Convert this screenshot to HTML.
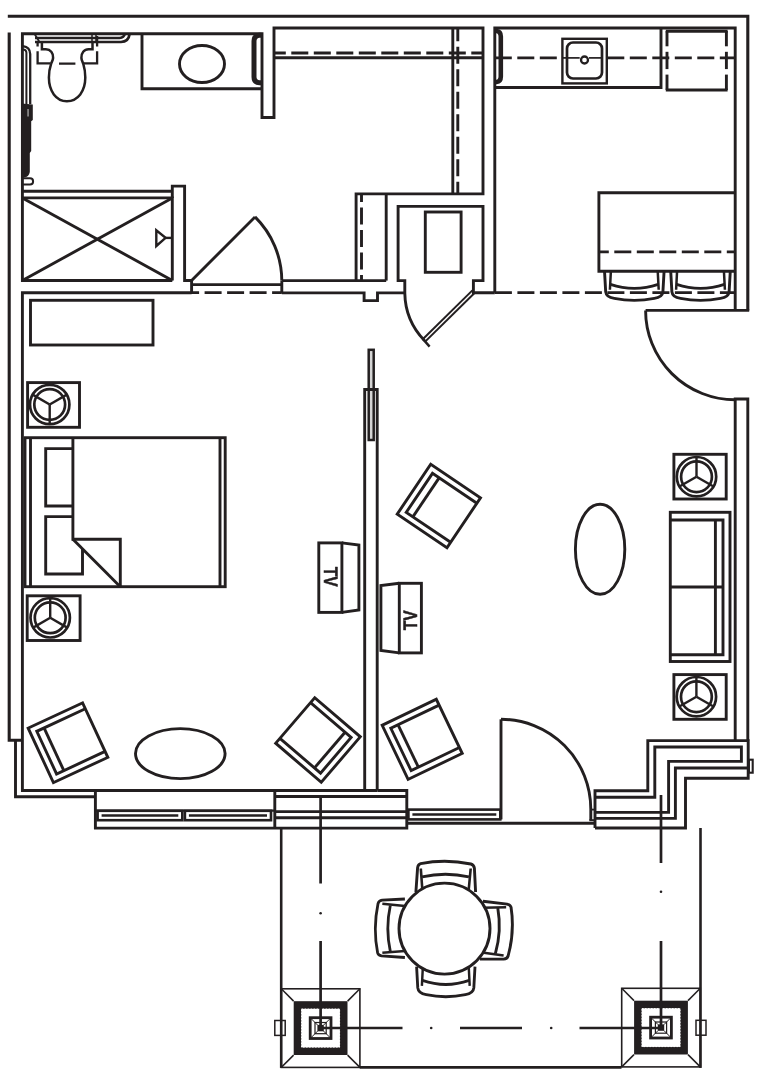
<!DOCTYPE html>
<html><head><meta charset="utf-8"><title>Floor plan</title>
<style>
html,body{margin:0;padding:0;background:#fff;}
body{width:761px;height:1073px;overflow:hidden;font-family:"Liberation Sans",sans-serif;}
svg{display:block;will-change:transform;}
text{-webkit-font-smoothing:antialiased;text-rendering:geometricPrecision;}
</style></head>
<body>
<svg width="761" height="1073" viewBox="0 0 761 1073" fill="none" stroke="#231f20" stroke-width="2.9" stroke-linecap="butt" stroke-linejoin="miter">
<rect x="0" y="0" width="761" height="1073" fill="#fff" stroke="none"/>
<g id="walls">
<polyline points="7.8,16.2 747.8,16.2 747.8,310.4" stroke-width="3.1" />
<polyline points="9.2,32.5 9.2,740.3 22.4,740.3" stroke-width="3.1" />
<polyline points="15.5,740.3 15.5,796.7 95.4,796.7" />
<polyline points="377.5,790.5 22.4,790.5 22.4,292.8 191.6,292.8" />
<polyline points="172.3,280.5 22.4,280.5 22.4,33.7 262,33.7 262,117.5 274,117.5 274,28 483,28 483,193.9 356.1,193.9 356.1,280.6" />
<line x1="274" y1="57.8" x2="483" y2="57.8" />
<line x1="274" y1="53" x2="483" y2="53" stroke-dasharray="17 5.5" stroke-dashoffset="5.2"/>
<line x1="452.8" y1="28" x2="452.8" y2="193.9" />
<line x1="457.8" y1="28" x2="457.8" y2="193.9" stroke-dasharray="17 5.5" stroke-dashoffset="3.8"/>
<line x1="386.2" y1="193.9" x2="386.2" y2="280.6" />
<line x1="361.5" y1="193.9" x2="361.5" y2="280.6" stroke-dasharray="17 5.5" stroke-dashoffset="8.9"/>
<polyline points="494.8,292.8 494.8,28 735.2,28 735.2,310.4" />
<line x1="645.6" y1="310.4" x2="749.2" y2="310.4" />
<path d="M645.6,310.4 A89.6,89.4 0 0 0 735.2,399.8" />
<polyline points="735.2,740.6 735.2,399 747.8,399 747.8,740.6" />
</g>
<g id="bath">
<polyline points="142,33.7 142,88.7 262,88.7" />
<ellipse cx="202" cy="64" rx="22.5" ry="18.5" />
<path d="M261.5,35.2 L259.5,35.2 Q254,35.6 254,41 L254,77 Q254,82.4 259.5,82.8 L261.5,82.8" stroke-width="5" />
<line x1="22.4" y1="191.2" x2="172.3" y2="191.2" />
<polyline points="22.4,197.9 172.3,197.9 172.3,280.5" />
<line x1="22.4" y1="197.9" x2="172.3" y2="280.5" />
<line x1="22.4" y1="280.5" x2="172.3" y2="197.9" />
<polyline points="172.3,197.9 172.3,186.1 184.6,186.1 184.6,280.5 191.6,280.5 191.6,294" />
<polygon points="156.3,230.3 156.3,246 165.6,237.9" stroke-width="2.4" />
<line x1="165.6" y1="237.9" x2="172.3" y2="237.9" stroke-width="2.4" />
<line x1="191.6" y1="280.5" x2="255" y2="216.9" />
<path d="M255,216.9 A90,90 0 0 1 281.8,280.6" />
<line x1="191.8" y1="284.6" x2="281.8" y2="284.6" />
<line x1="191.8" y1="292.6" x2="281.8" y2="292.6" stroke-dasharray="17 5.5" stroke-dashoffset="9.7"/>
<line x1="281.8" y1="280.6" x2="281.8" y2="292.9" />
<line x1="281.8" y1="280.6" x2="386.2" y2="280.6" />
<polyline points="281.8,292.9 364.1,292.9 364.1,300.6 377.5,300.6 377.5,292.9 404.8,292.9" />
<path d="M35,38 L119.5,38 Q124,37.6 124.8,34" stroke-width="2.6" />
<path d="M35,42 L121,42 Q128.6,41.8 129.6,34" stroke-width="2.7" />
<path d="M34.6,34 L39.5,42" stroke-width="1.8" />
<path d="M92,34.5 L92,42 M96,34.5 L96,42" stroke-width="1.5" />
<path d="M37.6,42.5 L37.6,46.5 M37.6,51.3 L37.6,63.4 L50.5,63.4 M59,63.6 L75.4,63.6 M82.7,63.4 L97.1,63.4 L97.1,51.3 M97.1,36 L97.1,46.5" stroke-width="2.3" />
<path d="M41.9,42 L41.9,49.3 L45.9,49.3 C50.5,49.3 53.3,53 53.1,57.9 C53,60.5 51.6,62 51.1,63.8 C49.6,68 48.9,73 48.9,77.6 C48.9,91 56,101.2 66.9,101.2 C78,101.2 85.3,91 85.3,77.6 C85.3,73 84.6,68 83.3,63.8 C82.7,62 81.5,60.5 81.4,57.9 C81.2,53 84,49.3 88.6,49.3 L92.5,49.3 L92.5,42" stroke-width="2.5" />
<path d="M30.2,104 L30.2,54 Q30,47.2 23,46.2" stroke-width="2.3" />
<path d="M26.4,104 L26.4,52.5 Q26.2,49.8 23,49.6" stroke-width="2" />
<path d="M21.3,103.5 L32.8,104.5 L32.8,120 L31.2,121.2 L31.2,151 L29.8,153 L29.8,172 Q29,177 24,177.6 L21.3,177 Z" fill="#231f20" stroke="none"/>
<rect x="27.4" y="109" width="1.3" height="7.5" fill="#aaa" stroke="none"/>
<path d="M23,178.3 L30,178.3 A3.1,3.1 0 0 1 30,184.5 L23,184.5" stroke-width="2" />
</g>
<g id="util">
<polyline points="404.8,292.9 404.8,280.6 398.1,280.6 398.1,206.4 483,206.4 483,280.6 473.4,280.6 473.4,292.8 494.8,292.8" />
<rect x="425.3" y="212" width="35.8" height="60.3" />
<line x1="472.4" y1="290.4" x2="423" y2="339" stroke-width="2" />
<line x1="474.8" y1="292.8" x2="425.4" y2="341.4" stroke-width="2" />
<line x1="422.6" y1="338.6" x2="429.6" y2="346.6" stroke-width="2.4" />
<path d="M404.8,292.9 A70,70 0 0 0 424.5,340.5" />
</g>
<g id="kitchen">
<polyline points="494.8,87.5 661,87.5 661,28" />
<line x1="494.8" y1="57.9" x2="562.4" y2="57.9" stroke-dasharray="17 5.5" stroke-dashoffset="0.0"/>
<line x1="606.8" y1="57.9" x2="735.2" y2="57.9" stroke-dasharray="17 5.5" stroke-dashoffset="22.0"/>
<line x1="562.4" y1="57.9" x2="579.7" y2="57.9" stroke-width="1.7" />
<line x1="589" y1="57.9" x2="601" y2="57.9" stroke-width="1.7" />
<rect x="562.4" y="38.8" width="44.4" height="44.6" stroke-width="2.4" />
<rect x="567" y="42.5" width="35" height="36" rx="6" ry="6" stroke-width="2.7"/>
<circle cx="584.5" cy="60" r="3.5" stroke-width="2.3"/>
<path d="M495.5,31 L496.5,31 Q500.8,31.4 500.8,36.5 L500.8,76.5 Q500.8,81.6 496.5,82 L495.5,82" stroke-width="4.6" />
<line x1="665.8" y1="31.3" x2="727.6" y2="31.3" stroke-width="3" />
<line x1="665.8" y1="90" x2="727.6" y2="90" />
<line x1="667" y1="31" x2="667" y2="46.3" />
<line x1="667" y1="51.8" x2="667" y2="69.1" />
<line x1="667" y1="74.6" x2="667" y2="90" />
<line x1="726.4" y1="31" x2="726.4" y2="46.3" />
<line x1="726.4" y1="51.8" x2="726.4" y2="69.1" />
<line x1="726.4" y1="74.6" x2="726.4" y2="90" />
<polyline points="735.2,192.7 598.9,192.7 598.9,271.3 735.2,271.3" />
<line x1="598.9" y1="251.9" x2="735.2" y2="251.9" stroke-dasharray="17 5.5" stroke-dashoffset="7.1"/>
<line x1="494.8" y1="292.6" x2="735.2" y2="292.6" stroke-dasharray="17 5.5" stroke-dashoffset="22.4"/>
<g transform="translate(634.3,270.8) rotate(180) rotate(0,0,-15) scale(1,1)" stroke-width="2.9" stroke-linejoin="round">
<path d="M-29.8,0 L-28.6,-21 Q-28,-26.3 -20,-27.6 Q0,-31.6 20,-27.6 Q28,-26.3 28.6,-21 L29.8,0" />
<path d="M-23.4,0 L-24.4,-19 M23.4,0 L24.4,-19" stroke-width="2.5" />
<path d="M-23.9,-13.6 Q0,-21.6 23.9,-13.6" />
</g>
<g transform="translate(700.5,270.8) rotate(180) rotate(0,0,-15) scale(1,1)" stroke-width="2.9" stroke-linejoin="round">
<path d="M-29.8,0 L-28.6,-21 Q-28,-26.3 -20,-27.6 Q0,-31.6 20,-27.6 Q28,-26.3 28.6,-21 L29.8,0" />
<path d="M-23.4,0 L-24.4,-19 M23.4,0 L24.4,-19" stroke-width="2.5" />
<path d="M-23.9,-13.6 Q0,-21.6 23.9,-13.6" />
</g>
</g>
<g id="bedroom">
<rect x="30.5" y="300.3" width="122.5" height="44.7" />
<rect x="27.6" y="382.6" width="51.9" height="44.7" />
<circle cx="49.7" cy="404.5" r="19.7" stroke-width="2.7"/>
<circle cx="49.7" cy="404.5" r="15.4" stroke-width="2.7"/>
<line x1="49.7" y1="404.5" x2="49.7" y2="424.2" stroke-width="2.4" />
<line x1="49.7" y1="404.5" x2="32.64" y2="394.65" stroke-width="2.4" />
<line x1="49.7" y1="404.5" x2="66.76" y2="394.65" stroke-width="2.4" />
<rect x="27.2" y="595.8" width="52.9" height="44.7" />
<circle cx="50.2" cy="617.8" r="19.7" stroke-width="2.7"/>
<circle cx="50.2" cy="617.8" r="15.4" stroke-width="2.7"/>
<line x1="50.2" y1="617.8" x2="50.2" y2="598.1" stroke-width="2.4" />
<line x1="50.2" y1="617.8" x2="67.26" y2="627.65" stroke-width="2.4" />
<line x1="50.2" y1="617.8" x2="33.14" y2="627.65" stroke-width="2.4" />
<rect x="25" y="437.7" width="200.2" height="149.0" />
<line x1="30.5" y1="437.7" x2="30.5" y2="586.7" />
<line x1="220" y1="437.7" x2="220" y2="586.7" />
<polyline points="72.9,437.7 72.9,539.2 120.3,539.2 120.3,586.7" />
<line x1="72.9" y1="539.2" x2="120.3" y2="586.7" />
<polyline points="72.9,448.6 45.7,448.6 45.7,506 72.9,506" />
<polyline points="72.9,516.6 45.7,516.6 45.7,574 82.5,574 82.5,549" />
<ellipse cx="180.3" cy="753.6" rx="44.8" ry="25" />
<g transform="translate(68,742.75) rotate(-24.9)">
<rect x="-30" y="-30" width="60" height="60" />
<polyline points="30,-23.5 -23.5,-23.5 -23.5,23.5 30,23.5" />
<line x1="-15.5" y1="-23.5" x2="-15.5" y2="23.5" />
</g>
<g transform="translate(318,740) rotate(-139.4)">
<rect x="-30" y="-30" width="60" height="60" />
<polyline points="30,-23.5 -23.5,-23.5 -23.5,23.5 30,23.5" />
<line x1="-15.5" y1="-23.5" x2="-15.5" y2="23.5" />
</g>
<rect x="318.8" y="542.9" width="23.1" height="69.5" />
<polyline points="341.9,542.9 358.9,545.1 358.9,610 341.9,612.4" />
<text x="0" y="0" transform="translate(323.9,576.6) rotate(90) scale(0.8,1)" text-anchor="middle" font-family="'Liberation Sans', sans-serif" font-weight="bold" font-size="19.5" fill="#231f20" stroke="#231f20" stroke-width="0.55" stroke-linejoin="round">TV</text>
<rect x="399.3" y="583.3" width="22.1" height="69.6" />
<polyline points="399.3,583.3 380.9,585.6 380.9,650.5 399.3,652.9" />
<text x="0" y="0" transform="translate(417,620.2) rotate(-90) scale(0.8,1)" text-anchor="middle" font-family="'Liberation Sans', sans-serif" font-weight="bold" font-size="19.5" fill="#231f20" stroke="#231f20" stroke-width="0.55" stroke-linejoin="round">TV</text>
</g>
<g id="divider">
<rect x="368.7" y="349.8" width="5.0" height="90.2" stroke-width="2.5" fill="#d4d4d4"/>
<polyline points="364.7,790.5 364.7,389.5 377.2,389.5 377.2,790.5" />
</g>
<g id="living">
<g transform="translate(438.85,506) rotate(33.95)">
<rect x="-30" y="-30" width="60" height="60" />
<polyline points="30,-23.5 -23.5,-23.5 -23.5,23.5 30,23.5" />
<line x1="-15.5" y1="-23.5" x2="-15.5" y2="23.5" />
</g>
<g transform="translate(422.2,739.3) rotate(-25.6)">
<rect x="-30" y="-30" width="60" height="60" />
<polyline points="30,-23.5 -23.5,-23.5 -23.5,23.5 30,23.5" />
<line x1="-15.5" y1="-23.5" x2="-15.5" y2="23.5" />
</g>
<ellipse cx="600.1" cy="549.3" rx="24.7" ry="45" />
<rect x="673.9" y="454.3" width="52.3" height="44.7" />
<circle cx="696.5" cy="476.7" r="19.7" stroke-width="2.7"/>
<circle cx="696.5" cy="476.7" r="15.4" stroke-width="2.7"/>
<line x1="696.5" y1="476.7" x2="696.5" y2="457.0" stroke-width="2.4" />
<line x1="696.5" y1="476.7" x2="713.56" y2="486.55" stroke-width="2.4" />
<line x1="696.5" y1="476.7" x2="679.44" y2="486.55" stroke-width="2.4" />
<rect x="673.9" y="674.6" width="52.3" height="44.7" />
<circle cx="696.4" cy="696.7" r="19.7" stroke-width="2.7"/>
<circle cx="696.4" cy="696.7" r="15.4" stroke-width="2.7"/>
<line x1="696.4" y1="696.7" x2="696.4" y2="677.0" stroke-width="2.4" />
<line x1="696.4" y1="696.7" x2="713.46" y2="706.55" stroke-width="2.4" />
<line x1="696.4" y1="696.7" x2="679.34" y2="706.55" stroke-width="2.4" />
<rect x="670.3" y="512.3" width="59.7" height="149.2" />
<polyline points="670.3,520 723,520 723,654.8 670.3,654.8" />
<line x1="715.4" y1="520" x2="715.4" y2="654.8" />
<line x1="670.3" y1="587" x2="723" y2="587" />
<line x1="501" y1="719.3" x2="501" y2="819.4" />
<path d="M501,719.3 A89.8,89.8 0 0 1 590.8,809 L590.8,820.4" />
</g>
<g id="windows">
<polyline points="95.4,790.5 95.4,828.1 406.8,828.1 406.8,790.5 377.5,790.5" />
<line x1="274.8" y1="790.5" x2="274.8" y2="828.1" />
<rect x="97.6" y="810.8" width="84.7" height="9.4" stroke-width="2.6" />
<line x1="101.6" y1="815.5" x2="178.3" y2="815.5" stroke-width="2.5" />
<rect x="184.9" y="810.8" width="86.1" height="9.4" stroke-width="2.6" />
<line x1="188.9" y1="815.5" x2="267" y2="815.5" stroke-width="2.5" />
<line x1="95.4" y1="810.6" x2="274.8" y2="810.6" stroke-width="2.4" />
<line x1="274.8" y1="796.5" x2="406.8" y2="796.5" />
<line x1="274.8" y1="811.6" x2="406.8" y2="811.6" />
<line x1="274.8" y1="817.8" x2="406.8" y2="817.8" />
<rect x="408.4" y="809.6" width="91.9" height="9.8" stroke-width="2.6" />
<line x1="412.4" y1="814.5" x2="496.3" y2="814.5" stroke-width="2.5" />
<line x1="406.8" y1="823.3" x2="595" y2="823.3" />
</g>
<g id="step">
<polyline points="595,828 595,790.8 647.8,790.8 647.8,740.6 748.2,740.6 748.2,778.2 685.5,778.2 685.5,828 595,828" />
<polyline points="595,797.3 654.8,797.3 654.8,747 741.4,747 741.4,761.4 668.6,761.4 668.6,812.4 595,812.4" />
<polyline points="748.2,768 675.4,768 675.4,818.4 595,818.4" />
<rect x="748.9" y="759.7" width="3.8" height="13.0" stroke-width="2.1" />
<line x1="590.8" y1="809.6" x2="595" y2="809.6" stroke-width="1.8" />
<line x1="589.4" y1="820.2" x2="595" y2="820.2" stroke-width="2" />
</g>
<g id="balcony">
<line x1="281.2" y1="828.1" x2="281.2" y2="1067.9" stroke-width="2.6" />
<line x1="700.5" y1="828" x2="700.5" y2="1067.9" stroke-width="2.6" />
<line x1="359.7" y1="1067.4" x2="621.5" y2="1067.4" />
<rect x="281.3" y="988.8" width="78.6" height="78.6" stroke-width="1.6" />
<line x1="281.3" y1="988.8" x2="293.6" y2="1001.0999999999999" stroke-width="1.5" />
<line x1="281.3" y1="1067.3999999999999" x2="293.6" y2="1055.1" stroke-width="1.5" />
<line x1="359.90000000000003" y1="988.8" x2="347.6" y2="1001.0999999999999" stroke-width="1.5" />
<line x1="359.90000000000003" y1="1067.3999999999999" x2="347.6" y2="1055.1" stroke-width="1.5" />
<rect x="297.5" y="1004.9999999999999" width="46.2" height="46.2" fill="none" stroke-width="7.6"/>
<rect x="301.6" y="1009.0999999999999" width="38" height="38" fill="none" stroke="#fff" stroke-width="1" stroke-dasharray="1.5 1.5"/>
<rect x="310.20000000000005" y="1017.6999999999999" width="20.8" height="20.8" stroke-width="2.8" />
<rect x="315.0" y="1022.4999999999999" width="11.2" height="11.2" stroke-width="1.2" />
<line x1="311.1" y1="1018.5999999999999" x2="317.6" y2="1025.1" stroke-width="1" />
<line x1="311.1" y1="1037.6" x2="317.6" y2="1031.1" stroke-width="1" />
<line x1="330.1" y1="1018.5999999999999" x2="323.6" y2="1025.1" stroke-width="1" />
<line x1="330.1" y1="1037.6" x2="323.6" y2="1031.1" stroke-width="1" />
<rect x="317.40000000000003" y="1024.8999999999999" width="6.4" height="6.4" fill="#231f20" stroke="none"/>
<rect x="621.7" y="988.3" width="78.6" height="78.6" stroke-width="1.6" />
<line x1="621.7" y1="988.3" x2="634" y2="1000.5999999999999" stroke-width="1.5" />
<line x1="621.7" y1="1066.8999999999999" x2="634" y2="1054.6" stroke-width="1.5" />
<line x1="700.3" y1="988.3" x2="688" y2="1000.5999999999999" stroke-width="1.5" />
<line x1="700.3" y1="1066.8999999999999" x2="688" y2="1054.6" stroke-width="1.5" />
<rect x="637.9" y="1004.4999999999999" width="46.2" height="46.2" fill="none" stroke-width="7.6"/>
<rect x="642" y="1008.5999999999999" width="38" height="38" fill="none" stroke="#fff" stroke-width="1" stroke-dasharray="1.5 1.5"/>
<rect x="650.6" y="1017.1999999999999" width="20.8" height="20.8" stroke-width="2.8" />
<rect x="655.4" y="1021.9999999999999" width="11.2" height="11.2" stroke-width="1.2" />
<line x1="651.5" y1="1018.0999999999999" x2="658" y2="1024.6" stroke-width="1" />
<line x1="651.5" y1="1037.1" x2="658" y2="1030.6" stroke-width="1" />
<line x1="670.5" y1="1018.0999999999999" x2="664" y2="1024.6" stroke-width="1" />
<line x1="670.5" y1="1037.1" x2="664" y2="1030.6" stroke-width="1" />
<rect x="657.8" y="1024.3999999999999" width="6.4" height="6.4" fill="#231f20" stroke="none"/>
<rect x="274.8" y="1020.5" width="10.4" height="14.9" stroke-width="1.5" />
<rect x="696" y="1020.3" width="10" height="14.9" stroke-width="1.5" />
<line x1="320.6" y1="796.3" x2="320.6" y2="883.5" stroke-width="2.7" />
<circle cx="320.6" cy="913.2" r="1.3" fill="#231f20" stroke="none"/>
<line x1="320.6" y1="941" x2="320.6" y2="1028" stroke-width="2.7" />
<line x1="661" y1="795" x2="661" y2="863" stroke-width="2.7" />
<circle cx="661" cy="891.8" r="1.3" fill="#231f20" stroke="none"/>
<line x1="661" y1="941" x2="661" y2="1027.6" stroke-width="2.7" />
<line x1="320.6" y1="1028" x2="402.5" y2="1028" stroke-width="2.7" />
<circle cx="431.2" cy="1028" r="1.3" fill="#231f20" stroke="none"/>
<line x1="460" y1="1028" x2="522" y2="1028" stroke-width="2.7" />
<circle cx="551.2" cy="1028" r="1.3" fill="#231f20" stroke="none"/>
<line x1="579.5" y1="1028" x2="661" y2="1028" stroke-width="2.7" />
<g transform="translate(445.7,892.0) rotate(0) rotate(0,0,-15) scale(1,1)" stroke-width="2.9" stroke-linejoin="round">
<path d="M-29.8,0 L-28.1,-24.3 Q-27.6,-27.7 -25.1,-28.4 Q-0.3,-33.4 25.2,-28 Q28.2,-27.2 28.7,-23.7 L29.9,0" />
<path d="M-23.2,0 L-24.9,-23.5 M22.8,0 L25,-23.5" stroke-width="2.6" />
<path d="M-23.6,-15.2 Q-0.3,-20.4 23.2,-15.2" />
</g>
<g transform="translate(481.4,930.9) rotate(90) rotate(3,0,-15) scale(0.97,1)" stroke-width="2.9" stroke-linejoin="round">
<path d="M-29.8,0 L-28.1,-24.3 Q-27.6,-27.7 -25.1,-28.4 Q-0.3,-33.4 25.2,-28 Q28.2,-27.2 28.7,-23.7 L29.9,0" />
<path d="M-23.2,0 L-24.9,-23.5 M22.8,0 L25,-23.5" stroke-width="2.6" />
<path d="M-23.6,-15.2 Q-0.3,-20.4 23.2,-15.2" />
</g>
<g transform="translate(445.8,966.6) rotate(180) rotate(0,0,-15) scale(0.98,1.017)" stroke-width="2.9" stroke-linejoin="round">
<path d="M-29.8,0 L-28.6,-21 Q-28,-26.3 -20,-27.6 Q0,-31.6 20,-27.6 Q28,-26.3 28.6,-21 L29.8,0" />
<path d="M-23.4,0 L-24.4,-19 M23.4,0 L24.4,-19" stroke-width="2.5" />
<path d="M-23.9,-13.6 Q0,-21.6 23.9,-13.6" />
</g>
<g transform="translate(404.9,928.3) rotate(270) rotate(0,0,-15) scale(0.98,0.96)" stroke-width="2.9" stroke-linejoin="round">
<path d="M-29.8,0 L-28.1,-24.3 Q-27.6,-27.7 -25.1,-28.4 Q-0.3,-33.4 25.2,-28 Q28.2,-27.2 28.7,-23.7 L29.9,0" />
<path d="M-23.2,0 L-24.9,-23.5 M22.8,0 L25,-23.5" stroke-width="2.6" />
<path d="M-23.6,-15.2 Q-0.3,-20.4 23.2,-15.2" />
</g>
<circle cx="444.5" cy="928.6" r="45.5" fill="#fff"/>
</g>
</svg>
</body></html>
